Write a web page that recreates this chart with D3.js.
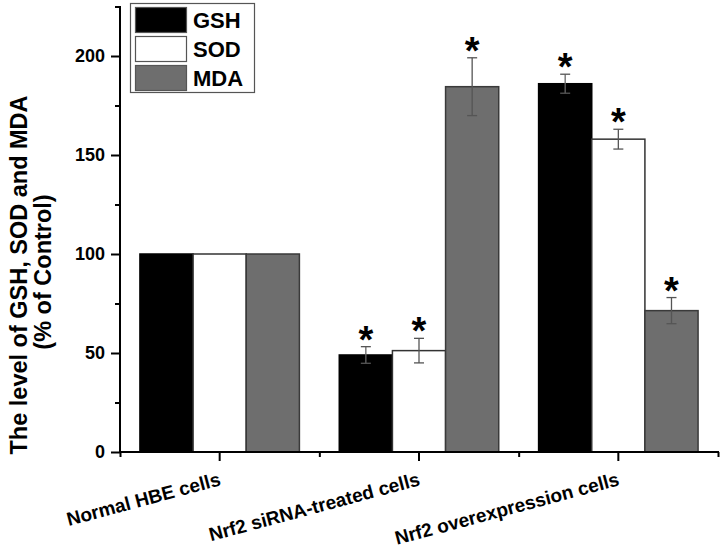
<!DOCTYPE html>
<html><head><meta charset="utf-8">
<script src="https://cdn.jsdelivr.net/npm/d3@7"></script>
<style>body{margin:0;background:#fff}svg{display:block}text{font-family:"Liberation Sans",Arial,sans-serif;font-weight:bold}</style>
</head><body><svg id="c" width="721" height="549"></svg>
<script>
const categories = ["Normal HBE cells", "Nrf2 siRNA-treated cells", "Nrf2 overexpression cells"];
const seriesNames = ["GSH", "SOD", "MDA"];
const GSH = [100, 49, 186];
const SOD = [100, 51.2, 158];
const MDA = [100, 184.5, 71.4];
const GSH_err = [0, 4.2, 4.8];
const SOD_err = [0, 6.2, 5];
const MDA_err = [0, 14.6, 6.6];
const GSH_sig = [false, true, true];
const SOD_sig = [false, true, true];
const MDA_sig = [false, true, true];
const yTicksMajor = [0, 50, 100, 150, 200];
const yTitle1 = "The level of GSH, SOD and MDA";
const yTitle2 = "(% of Control)";

const values = [GSH, SOD, MDA], errs = [GSH_err, SOD_err, MDA_err], sigs = [GSH_sig, SOD_sig, MDA_sig];
const fills = ["#000000", "#ffffff", "#6e6e6e"];
const strokes = ["#000000", "#333333", "#3a3a3a"];

const svg = d3.select("#c");
const L = 120, R = 718, B = 452, T = 6.5;
const y = d3.scaleLinear().domain([0, 225]).range([B, T]);
const x0 = d3.scaleBand().domain(categories).range([L, R]);
const bw = x0.bandwidth();
const x1 = d3.scaleBand().domain(seriesNames).range([bw * 0.1, bw * 0.9]);
const xLin = d3.scaleLinear().domain([0.5, 3.5]).range([L, R]);

// bars
seriesNames.forEach((s, j) => {
  const g = svg.append("g");
  categories.forEach((c, i) => {
    const v = values[j][i];
    g.append("rect")
      .attr("x", x0(c) + x1(s)).attr("y", y(v))
      .attr("width", x1.bandwidth()).attr("height", y(0) - y(v))
      .attr("fill", fills[j]).attr("stroke", strokes[j]).attr("stroke-width", 1.5);
    const e = errs[j][i];
    const cx = x0(c) + x1(s) + x1.bandwidth() / 2;
    if (e > 0) {
      g.append("line").attr("x1", cx).attr("x2", cx).attr("y1", y(v - e)).attr("y2", y(v + e)).attr("stroke", j === 0 ? "#666" : "#555").attr("stroke-width", 1.3);
      [v - e, v + e].forEach(t => {
        g.append("line").attr("x1", cx - 5).attr("x2", cx + 5).attr("y1", y(t)).attr("y2", y(t)).attr("stroke", "#555").attr("stroke-width", 1.3);
      });
    }
    if (sigs[j][i]) {
      g.append("text").attr("x", cx).attr("y", y(v + e) + 6).attr("text-anchor", "middle")
        .attr("font-size", 38).attr("fill", "#000").text("*");
    }
  });
});

// y axis
const yMaj = d3.axisLeft(y).tickValues(yTicksMajor).tickSize(9).tickPadding(6).tickFormat(d3.format("d"));
const yMin = d3.axisLeft(y).tickValues([25, 75, 125, 175, 225]).tickSize(5).tickFormat("");
const gy = svg.append("g").attr("transform", `translate(${L},0)`).call(yMaj);
svg.append("g").attr("transform", `translate(${L},0)`).call(yMin);
gy.selectAll("text").attr("font-size", 18).attr("fill", "#000");
svg.selectAll(".domain").remove();
svg.append("line").attr("x1", L).attr("x2", L).attr("y1", T - 0.5).attr("y2", B + 1).attr("stroke", "#000").attr("stroke-width", 2);

// x axis
const xMaj = d3.axisBottom(x0).tickSize(9).tickFormat("");
const xMin = d3.axisBottom(xLin).tickValues([0.5, 1.5, 2.5, 3.5]).tickSize(5).tickFormat("");
svg.append("g").attr("transform", `translate(0,${B})`).call(xMaj);
svg.append("g").attr("transform", `translate(0,${B})`).call(xMin);
svg.selectAll(".domain").remove();
svg.selectAll(".tick line").attr("stroke", "#000").attr("stroke-width", 2);
svg.append("line").attr("x1", L - 1).attr("x2", R + 1).attr("y1", B).attr("y2", B).attr("stroke", "#000").attr("stroke-width", 2);

categories.forEach(c => {
  const cx = x0(c) + bw / 2 + 2;
  svg.append("text").attr("transform", `translate(${cx},485) rotate(-15)`)
    .attr("text-anchor", "end").attr("font-size", 19).attr("fill", "#000").text(c);
});

// y title
svg.append("text").attr("transform", `translate(27,275) rotate(-90)`).attr("text-anchor", "middle")
  .attr("font-size", 23.5).attr("fill", "#000").text(yTitle1);
svg.append("text").attr("transform", `translate(51,272) rotate(-90)`).attr("text-anchor", "middle")
  .attr("font-size", 23.5).attr("fill", "#000").text(yTitle2);

// legend
const lg = svg.append("g");
lg.append("rect").attr("x", 130.5).attr("y", 3.5).attr("width", 124).attr("height", 89).attr("fill", "#fff").attr("stroke", "#555").attr("stroke-width", 1.2);
seriesNames.forEach((s, j) => {
  const yy = 7 + j * 29;
  lg.append("rect").attr("x", 135.5).attr("y", yy + 0.5).attr("width", 51).attr("height", 25)
    .attr("fill", fills[j]).attr("stroke", "#555").attr("stroke-width", 1.2);
  lg.append("text").attr("x", 193).attr("y", yy + 20.5).attr("font-size", 22).attr("fill", "#000").text(s);
});
</script></body></html>
